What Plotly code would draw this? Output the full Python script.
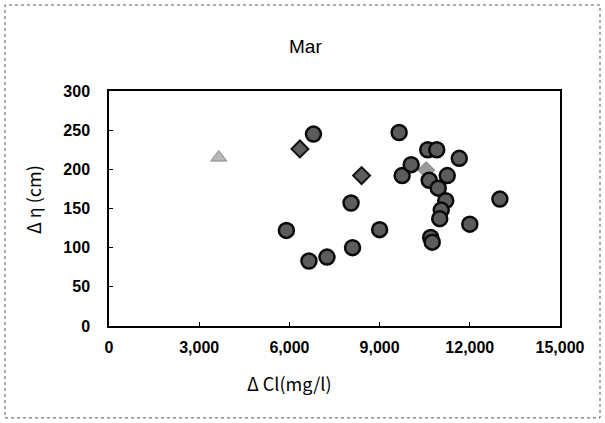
import plotly.graph_objects as go

# Delta Cl (mg/l) and Delta eta (cm), March observations
circle_cl = [5900, 6650, 6800, 7250, 8050, 8100, 9000, 9650, 9750, 10050,
             10600, 10900, 10650, 10950, 11250, 11650, 11200, 11050, 11000,
             12000, 13000, 10700, 10750]
circle_eta = [122, 83, 245, 88, 157, 100, 123, 247, 192, 206,
              225, 225, 186, 176, 192, 214, 160, 148, 137,
              130, 162, 113, 107]

diamond_cl = [6350, 8400]
diamond_eta = [226, 192]

light_diamond_cl = [10550]
light_diamond_eta = [199]

triangle_cl = [3650]
triangle_eta = [215]

x_ticks = [0, 3000, 6000, 9000, 12000, 15000]
x_tick_labels = ["0", "3,000", "6,000", "9,000", "12,000", "15,000"]
y_ticks = [0, 50, 100, 150, 200, 250, 300]

FONT = "Liberation Sans, Arial, sans-serif"
JFONT = "Noto Sans CJK JP, Liberation Sans, sans-serif"

fig = go.Figure()

fig.add_trace(go.Scatter(
    x=triangle_cl, y=triangle_eta, mode="markers",
    marker=dict(symbol="triangle-up", size=14, color="#b8b8b8",
                line=dict(color="#8a8a8a", width=1)),
))
fig.add_trace(go.Scatter(
    x=light_diamond_cl, y=light_diamond_eta, mode="markers",
    marker=dict(symbol="diamond", size=13, color="#9a9a9a",
                line=dict(color="#7a7a7a", width=1)),
))
fig.add_trace(go.Scatter(
    x=diamond_cl, y=diamond_eta, mode="markers",
    marker=dict(symbol="diamond", size=13, color="#5e5e5e",
                line=dict(color="#111111", width=2)),
))
fig.add_trace(go.Scatter(
    x=circle_cl, y=circle_eta, mode="markers",
    marker=dict(symbol="circle", size=15, color="#5c5c5c",
                line=dict(color="#0a0a0a", width=2.5)),
))

# dotted frame around the whole chart
fig.add_shape(type="rect", xref="paper", yref="paper",
              x0=-0.2306, x1=1.0887, y0=-0.391, y1=1.366,
              line=dict(color="#555555", width=1, dash="dot"))

fig.add_annotation(text="Mar", xref="paper", yref="paper",
                   x=0.4346, y=1.191, xanchor="center", yanchor="middle",
                   showarrow=False,
                   font=dict(family=FONT, size=19, color="black"))
fig.add_annotation(text="Δ Cl(mg/l)", xref="paper", yref="paper",
                   x=0.401, y=-0.243, xanchor="center", yanchor="middle",
                   showarrow=False,
                   font=dict(family=JFONT, size=18, color="black"))
fig.add_annotation(text="Δ η (cm)", xref="paper", yref="paper",
                   x=-0.1685, y=0.536, xanchor="center", yanchor="middle",
                   showarrow=False, textangle=-90,
                   font=dict(family=JFONT, size=18, color="black"))

fig.update_layout(
    width=605, height=423,
    margin=dict(l=109, r=45, t=91, b=97),
    paper_bgcolor="white", plot_bgcolor="white",
    showlegend=False,
    font=dict(family=FONT, size=16, color="black"),
)
fig.update_xaxes(
    range=[0, 15000], tickvals=x_ticks, ticktext=x_tick_labels,
    showgrid=False, zeroline=False,
    showline=True, linecolor="black", linewidth=1.5, mirror=True,
    ticks="inside", ticklen=4, tickcolor="black",
    ticklabelstandoff=6,
    tickfont=dict(family=FONT, size=16, weight="bold"),
)
fig.update_yaxes(
    range=[0, 300], tickvals=y_ticks,
    showgrid=False, zeroline=False,
    showline=True, linecolor="black", linewidth=1.5, mirror=True,
    ticks="inside", ticklen=4, tickcolor="black",
    ticklabelstandoff=14,
    tickfont=dict(family=FONT, size=16, weight="bold"),
)

fig.write_html("out.html")
